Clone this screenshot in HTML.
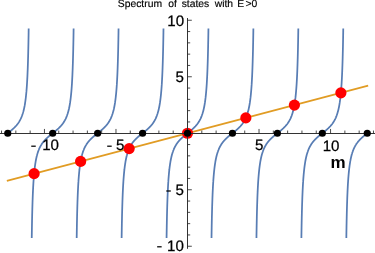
<!DOCTYPE html>
<html><head><meta charset="utf-8"><title>Spectrum</title>
<style>html,body{margin:0;padding:0;background:#fff;width:375px;height:253px;overflow:hidden}</style>
</head><body>
<svg width="375" height="253" viewBox="0 0 375 253" style="position:absolute;left:0;top:0;will-change:transform;transform:translateZ(0)">
<rect width="375" height="253" fill="#fff"/>
<g stroke="#587DB4" stroke-width="1.75" fill="none" stroke-linejoin="round">
<path d="M7.74,133.25L7.91,133.11L8.09,132.97L8.27,132.83L8.44,132.69L8.62,132.55L8.79,132.41L8.85,132.37L8.97,132.27L9.15,132.13L9.32,131.99L9.50,131.85L9.67,131.71L9.85,131.57L10.02,131.43L10.20,131.29L10.38,131.14L10.55,131.00L10.73,130.85L10.90,130.71L11.02,130.61L11.08,130.56L11.26,130.41L11.43,130.27L11.61,130.12L11.78,129.97L11.96,129.82L12.14,129.66L12.31,129.51L12.49,129.35L12.66,129.20L12.84,129.04L13.01,128.88L13.05,128.85L13.19,128.72L13.37,128.56L13.54,128.40L13.72,128.23L13.89,128.06L14.07,127.89L14.25,127.72L14.42,127.55L14.60,127.37L14.77,127.20L14.87,127.09L14.95,127.02L15.13,126.83L15.30,126.65L15.48,126.46L15.65,126.27L15.83,126.08L16.01,125.88L16.18,125.68L16.36,125.48L16.48,125.34L16.53,125.27L16.71,125.06L16.88,124.85L17.06,124.63L17.24,124.41L17.41,124.18L17.59,123.95L17.76,123.72L17.87,123.58L17.94,123.47L18.12,123.23L18.29,122.98L18.47,122.72L18.64,122.46L18.82,122.19L19.00,121.92L19.06,121.82L19.17,121.63L19.35,121.34L19.52,121.05L19.70,120.74L19.87,120.43L20.05,120.11L20.07,120.06L20.23,119.77L20.40,119.43L20.58,119.08L20.75,118.72L20.93,118.34L20.95,118.30L21.11,117.96L21.28,117.55L21.46,117.14L21.63,116.71L21.70,116.54L21.81,116.27L21.99,115.81L22.16,115.33L22.34,114.83L22.35,114.78L22.51,114.31L22.69,113.77L22.86,113.21L22.92,113.03L23.04,112.62L23.22,112.00L23.39,111.36L23.42,111.27L23.57,110.68L23.74,109.97L23.85,109.51L23.92,109.22L24.10,108.43L24.24,107.75L24.27,107.60L24.45,106.72L24.59,105.99L24.62,105.79L24.80,104.80L24.90,104.23L24.98,103.75L25.15,102.63L25.17,102.47L25.33,101.43L25.43,100.72L25.50,100.14L25.65,98.96L25.68,98.76L25.86,97.27L25.86,97.20L26.03,95.66L26.05,95.44L26.21,93.91L26.23,93.68L26.38,92.01L26.39,91.92L26.54,90.16L26.56,89.92L26.68,88.41L26.73,87.63L26.81,86.65L26.91,85.10L26.92,84.89L27.04,83.13L27.09,82.30L27.14,81.37L27.24,79.61L27.26,79.16L27.33,77.85L27.42,76.09L27.44,75.63L27.50,74.34L27.57,72.58L27.61,71.62L27.65,70.82L27.72,69.06L27.78,67.30L27.79,67.05L27.84,65.54L27.90,63.78L27.96,62.03L27.97,61.76L28.01,60.27L28.06,58.51L28.11,56.75L28.14,55.57L28.16,54.99L28.20,53.23L28.24,51.47L28.28,49.72L28.32,48.25L28.32,47.96L28.36,46.20L28.40,44.44L28.43,42.68L28.47,40.92L28.49,39.43L28.50,39.16L28.53,37.41L28.56,35.65L28.59,33.89L28.62,32.13L28.64,30.37L28.67,28.61"/>
<path d="M31.75,237.89L31.77,236.13L31.80,234.37L31.83,232.61L31.86,230.85L31.89,229.09L31.92,227.34L31.95,225.58L31.98,223.82L32.02,222.06L32.05,220.30L32.09,218.54L32.10,218.25L32.13,216.78L32.17,215.03L32.22,213.27L32.26,211.51L32.31,209.75L32.35,207.99L32.41,206.23L32.45,204.74L32.46,204.47L32.52,202.72L32.57,200.96L32.64,199.20L32.70,197.44L32.77,195.68L32.80,194.88L32.84,193.92L32.92,192.16L33.00,190.41L33.09,188.65L33.15,187.34L33.18,186.89L33.28,185.13L33.38,183.37L33.49,181.61L33.51,181.40L33.61,179.85L33.74,178.09L33.86,176.58L33.88,176.34L34.03,174.58L34.19,172.82L34.21,172.59L34.36,171.06L34.55,169.30L34.56,169.23L34.76,167.54L34.91,166.36L34.99,165.78L35.24,164.03L35.27,163.87L35.52,162.27L35.62,161.70L35.83,160.51L35.97,159.78L36.18,158.75L36.32,158.07L36.56,156.99L36.67,156.53L37.00,155.23L37.02,155.14L37.38,153.88L37.50,153.47L37.73,152.73L38.06,151.72L38.08,151.67L38.43,150.69L38.72,149.96L38.78,149.79L39.13,148.95L39.47,148.20L39.49,148.16L39.84,147.42L40.19,146.73L40.34,146.44L40.54,146.07L40.89,145.45L41.25,144.87L41.36,144.68L41.60,144.31L41.95,143.78L42.30,143.27L42.55,142.92L42.65,142.78L43.00,142.32L43.36,141.87L43.71,141.44L43.94,141.16L44.06,141.02L44.41,140.62L44.76,140.23L45.12,139.85L45.47,139.48L45.54,139.41L45.82,139.13L46.17,138.78L46.52,138.44L46.87,138.10L47.23,137.78L47.37,137.65L47.58,137.46L47.93,137.15L48.28,136.84L48.63,136.53L48.98,136.23L49.34,135.94L49.40,135.89L49.69,135.65L50.04,135.36L50.39,135.07L50.74,134.79L51.10,134.51L51.45,134.23L51.57,134.13L51.80,133.95L52.15,133.67L52.50,133.39L52.85,133.11L53.21,132.83L53.56,132.55L53.79,132.37L53.91,132.27L54.26,131.99L54.61,131.71L54.97,131.43L55.32,131.14L55.67,130.85L55.96,130.61L56.02,130.56L56.37,130.27L56.72,129.97L57.08,129.66L57.43,129.35L57.78,129.04L57.99,128.85L58.13,128.72L58.48,128.40L58.83,128.06L59.19,127.72L59.54,127.37L59.81,127.09L59.89,127.02L60.24,126.65L60.59,126.27L60.95,125.88L61.30,125.48L61.42,125.34L61.65,125.06L62.00,124.63L62.35,124.18L62.70,123.72L62.81,123.58L63.06,123.23L63.41,122.72L63.76,122.19L64.00,121.82L64.11,121.63L64.46,121.05L64.82,120.43L65.02,120.06L65.17,119.77L65.52,119.08L65.87,118.34L65.89,118.30L66.22,117.55L66.57,116.71L66.64,116.54L66.93,115.81L67.28,114.83L67.29,114.78L67.63,113.77L67.86,113.03L67.98,112.62L68.33,111.36L68.36,111.27L68.68,109.97L68.79,109.51L69.04,108.43L69.18,107.75L69.39,106.72L69.53,105.99L69.74,104.80L69.84,104.23L70.09,102.63L70.12,102.47L70.37,100.72L70.44,100.14L70.60,98.96L70.80,97.27L70.80,97.20L70.99,95.44L71.15,93.91L71.17,93.68L71.33,91.92L71.48,90.16L71.50,89.92L71.62,88.41L71.75,86.65L71.85,85.10L71.87,84.89L71.98,83.13L72.08,81.37L72.18,79.61L72.20,79.16L72.27,77.85L72.36,76.09L72.44,74.34L72.51,72.58L72.55,71.62L72.59,70.82L72.66,69.06L72.72,67.30L72.78,65.54L72.84,63.78L72.90,62.03L72.91,61.76L72.95,60.27L73.00,58.51L73.05,56.75L73.10,54.99L73.14,53.23L73.18,51.47L73.23,49.72L73.26,48.25L73.26,47.96L73.30,46.20L73.34,44.44L73.37,42.68L73.41,40.92L73.44,39.16L73.47,37.41L73.50,35.65L73.53,33.89L73.56,32.13L73.58,30.37L73.61,28.61"/>
<path d="M76.69,237.89L76.71,236.13L76.74,234.37L76.77,232.61L76.80,230.85L76.83,229.09L76.86,227.34L76.89,225.58L76.92,223.82L76.96,222.06L77.00,220.30L77.03,218.54L77.04,218.25L77.07,216.78L77.11,215.03L77.16,213.27L77.20,211.51L77.25,209.75L77.30,207.99L77.35,206.23L77.39,204.74L77.40,204.47L77.46,202.72L77.51,200.96L77.58,199.20L77.64,197.44L77.71,195.68L77.74,194.88L77.78,193.92L77.86,192.16L77.94,190.41L78.03,188.65L78.09,187.34L78.12,186.89L78.22,185.13L78.32,183.37L78.43,181.61L78.45,181.40L78.55,179.85L78.68,178.09L78.80,176.58L78.82,176.34L78.97,174.58L79.13,172.82L79.15,172.59L79.30,171.06L79.49,169.30L79.50,169.23L79.70,167.54L79.85,166.36L79.93,165.78L80.18,164.03L80.21,163.87L80.46,162.27L80.56,161.70L80.77,160.51L80.91,159.78L81.12,158.75L81.26,158.07L81.50,156.99L81.61,156.53L81.94,155.23L81.96,155.14L82.32,153.88L82.44,153.47L82.67,152.73L83.00,151.72L83.02,151.67L83.37,150.69L83.66,149.96L83.72,149.79L84.08,148.95L84.41,148.20L84.43,148.16L84.78,147.42L85.13,146.73L85.28,146.44L85.48,146.07L85.83,145.45L86.19,144.87L86.30,144.68L86.54,144.31L86.89,143.78L87.24,143.27L87.49,142.92L87.59,142.78L87.94,142.32L88.30,141.87L88.65,141.44L88.88,141.16L89.00,141.02L89.35,140.62L89.70,140.23L90.06,139.85L90.41,139.48L90.48,139.41L90.76,139.13L91.11,138.78L91.46,138.44L91.81,138.10L92.17,137.78L92.31,137.65L92.52,137.46L92.87,137.15L93.22,136.84L93.57,136.53L93.93,136.23L94.28,135.94L94.34,135.89L94.63,135.65L94.98,135.36L95.33,135.07L95.68,134.79L96.04,134.51L96.39,134.23L96.51,134.13L96.74,133.95L97.09,133.67L97.44,133.39L97.79,133.11L98.15,132.83L98.50,132.55L98.73,132.37L98.85,132.27L99.20,131.99L99.55,131.71L99.91,131.43L100.26,131.14L100.61,130.85L100.90,130.61L100.96,130.56L101.31,130.27L101.66,129.97L102.02,129.66L102.37,129.35L102.72,129.04L102.93,128.85L103.07,128.72L103.42,128.40L103.78,128.06L104.13,127.72L104.48,127.37L104.75,127.09L104.83,127.02L105.18,126.65L105.53,126.27L105.89,125.88L106.24,125.48L106.36,125.34L106.59,125.06L106.94,124.63L107.29,124.18L107.64,123.72L107.75,123.58L108.00,123.23L108.35,122.72L108.70,122.19L108.94,121.82L109.05,121.63L109.40,121.05L109.76,120.43L109.96,120.06L110.11,119.77L110.46,119.08L110.81,118.34L110.83,118.30L111.16,117.55L111.51,116.71L111.58,116.54L111.87,115.81L112.22,114.83L112.23,114.78L112.57,113.77L112.80,113.03L112.92,112.62L113.27,111.36L113.30,111.27L113.63,109.97L113.73,109.51L113.98,108.43L114.12,107.75L114.33,106.72L114.47,105.99L114.68,104.80L114.78,104.23L115.03,102.63L115.06,102.47L115.31,100.72L115.38,100.14L115.54,98.96L115.74,97.27L115.74,97.20L115.93,95.44L116.09,93.91L116.11,93.68L116.27,91.92L116.42,90.16L116.44,89.92L116.56,88.41L116.69,86.65L116.79,85.10L116.81,84.89L116.92,83.13L117.02,81.37L117.12,79.61L117.14,79.16L117.21,77.85L117.30,76.09L117.38,74.34L117.46,72.58L117.50,71.62L117.53,70.82L117.60,69.06L117.66,67.30L117.72,65.54L117.78,63.78L117.84,62.03L117.85,61.76L117.89,60.27L117.94,58.51L117.99,56.75L118.04,54.99L118.08,53.23L118.13,51.47L118.17,49.72L118.20,48.25L118.21,47.96L118.24,46.20L118.28,44.44L118.31,42.68L118.35,40.92L118.38,39.16L118.41,37.41L118.44,35.65L118.47,33.89L118.50,32.13L118.52,30.37L118.55,28.61"/>
<path d="M121.63,237.89L121.65,236.13L121.68,234.37L121.71,232.61L121.74,230.85L121.77,229.09L121.80,227.34L121.83,225.58L121.86,223.82L121.90,222.06L121.94,220.30L121.97,218.54L121.98,218.25L122.01,216.78L122.05,215.03L122.10,213.27L122.14,211.51L122.19,209.75L122.24,207.99L122.29,206.23L122.33,204.74L122.34,204.47L122.40,202.72L122.45,200.96L122.52,199.20L122.58,197.44L122.65,195.68L122.68,194.88L122.72,193.92L122.80,192.16L122.88,190.41L122.97,188.65L123.04,187.34L123.06,186.89L123.16,185.13L123.26,183.37L123.37,181.61L123.39,181.40L123.49,179.85L123.62,178.09L123.74,176.58L123.76,176.34L123.91,174.58L124.07,172.82L124.09,172.59L124.24,171.06L124.43,169.30L124.44,169.23L124.64,167.54L124.79,166.36L124.87,165.78L125.12,164.03L125.15,163.87L125.40,162.27L125.50,161.70L125.71,160.51L125.85,159.78L126.06,158.75L126.20,158.07L126.44,156.99L126.55,156.53L126.88,155.23L126.90,155.14L127.26,153.88L127.38,153.47L127.61,152.73L127.95,151.72L127.96,151.67L128.31,150.69L128.60,149.96L128.66,149.79L129.02,148.95L129.35,148.20L129.37,148.16L129.72,147.42L130.07,146.73L130.22,146.44L130.42,146.07L130.77,145.45L131.13,144.87L131.24,144.68L131.48,144.31L131.83,143.78L132.18,143.27L132.43,142.92L132.53,142.78L132.89,142.32L133.24,141.87L133.59,141.44L133.82,141.16L133.94,141.02L134.29,140.62L134.64,140.23L135.00,139.85L135.35,139.48L135.42,139.41L135.70,139.13L136.05,138.78L136.40,138.44L136.76,138.10L137.11,137.78L137.25,137.65L137.46,137.46L137.81,137.15L138.16,136.84L138.51,136.53L138.87,136.23L139.22,135.94L139.28,135.89L139.57,135.65L139.92,135.36L140.27,135.07L140.62,134.79L140.98,134.51L141.33,134.23L141.45,134.13L141.68,133.95L142.03,133.67L142.38,133.39L142.74,133.11L143.09,132.83L143.44,132.55L143.67,132.37L143.79,132.27L144.14,131.99L144.49,131.71L144.85,131.43L145.20,131.14L145.55,130.85L145.84,130.61L145.90,130.56L146.25,130.27L146.61,129.97L146.96,129.66L147.31,129.35L147.66,129.04L147.87,128.85L148.01,128.72L148.36,128.40L148.72,128.06L149.07,127.72L149.42,127.37L149.69,127.09L149.77,127.02L150.12,126.65L150.47,126.27L150.83,125.88L151.18,125.48L151.30,125.34L151.53,125.06L151.88,124.63L152.23,124.18L152.59,123.72L152.69,123.58L152.94,123.23L153.29,122.72L153.64,122.19L153.88,121.82L153.99,121.63L154.34,121.05L154.70,120.43L154.90,120.06L155.05,119.77L155.40,119.08L155.75,118.34L155.77,118.30L156.10,117.55L156.46,116.71L156.52,116.54L156.81,115.81L157.16,114.83L157.17,114.78L157.51,113.77L157.74,113.03L157.86,112.62L158.21,111.36L158.24,111.27L158.57,109.97L158.68,109.51L158.92,108.43L159.06,107.75L159.27,106.72L159.41,105.99L159.62,104.80L159.72,104.23L159.97,102.63L160.00,102.47L160.25,100.72L160.32,100.14L160.48,98.96L160.68,97.27L160.68,97.20L160.88,95.44L161.03,93.91L161.05,93.68L161.21,91.92L161.36,90.16L161.38,89.92L161.50,88.41L161.63,86.65L161.73,85.10L161.75,84.89L161.86,83.13L161.96,81.37L162.06,79.61L162.08,79.16L162.15,77.85L162.24,76.09L162.32,74.34L162.40,72.58L162.44,71.62L162.47,70.82L162.54,69.06L162.60,67.30L162.66,65.54L162.72,63.78L162.78,62.03L162.79,61.76L162.83,60.27L162.88,58.51L162.93,56.75L162.98,54.99L163.02,53.23L163.07,51.47L163.11,49.72L163.14,48.25L163.15,47.96L163.18,46.20L163.22,44.44L163.25,42.68L163.29,40.92L163.32,39.16L163.35,37.41L163.38,35.65L163.41,33.89L163.44,32.13L163.46,30.37L163.49,28.61"/>
<path d="M166.57,237.89L166.59,236.13L166.62,234.37L166.65,232.61L166.68,230.85L166.71,229.09L166.74,227.34L166.77,225.58L166.81,223.82L166.84,222.06L166.88,220.30L166.91,218.54L166.92,218.25L166.95,216.78L166.99,215.03L167.04,213.27L167.08,211.51L167.13,209.75L167.18,207.99L167.23,206.23L167.27,204.74L167.28,204.47L167.34,202.72L167.40,200.96L167.46,199.20L167.52,197.44L167.59,195.68L167.62,194.88L167.66,193.92L167.74,192.16L167.82,190.41L167.91,188.65L167.98,187.34L168.00,186.89L168.10,185.13L168.20,183.37L168.31,181.61L168.33,181.40L168.43,179.85L168.56,178.09L168.68,176.58L168.70,176.34L168.85,174.58L169.01,172.82L169.03,172.59L169.18,171.06L169.37,169.30L169.38,169.23L169.58,167.54L169.73,166.36L169.81,165.78L170.06,164.03L170.09,163.87L170.34,162.27L170.44,161.70L170.65,160.51L170.79,159.78L171.00,158.75L171.14,158.07L171.38,156.99L171.49,156.53L171.82,155.23L171.85,155.14L172.20,153.88L172.32,153.47L172.55,152.73L172.89,151.72L172.90,151.67L173.25,150.69L173.54,149.96L173.60,149.79L173.96,148.95L174.29,148.20L174.31,148.16L174.66,147.42L175.01,146.73L175.16,146.44L175.36,146.07L175.72,145.45L176.07,144.87L176.18,144.68L176.42,144.31L176.77,143.78L177.12,143.27L177.37,142.92L177.47,142.78L177.83,142.32L178.18,141.87L178.53,141.44L178.76,141.16L178.88,141.02L179.23,140.62L179.58,140.23L179.94,139.85L180.29,139.48L180.37,139.41L180.64,139.13L180.99,138.78L181.34,138.44L181.70,138.10L182.05,137.78L182.19,137.65L182.40,137.46L182.75,137.15L183.10,136.84L183.45,136.53L183.81,136.23L184.16,135.94L184.22,135.89L184.51,135.65L184.86,135.36L185.21,135.07L185.57,134.79L185.92,134.51L186.27,134.23L186.39,134.13L186.62,133.95L186.97,133.67L187.32,133.39L187.68,133.11L188.03,132.83L188.38,132.55L188.61,132.37L188.73,132.27L189.08,131.99L189.43,131.71L189.79,131.43L190.14,131.14L190.49,130.85L190.78,130.61L190.84,130.56L191.19,130.27L191.55,129.97L191.90,129.66L192.25,129.35L192.60,129.04L192.81,128.85L192.95,128.72L193.30,128.40L193.66,128.06L194.01,127.72L194.36,127.37L194.63,127.09L194.71,127.02L195.06,126.65L195.42,126.27L195.77,125.88L196.12,125.48L196.24,125.34L196.47,125.06L196.82,124.63L197.17,124.18L197.53,123.72L197.63,123.58L197.88,123.23L198.23,122.72L198.58,122.19L198.82,121.82L198.93,121.63L199.28,121.05L199.64,120.43L199.84,120.06L199.99,119.77L200.34,119.08L200.69,118.34L200.71,118.30L201.04,117.55L201.40,116.71L201.46,116.54L201.75,115.81L202.10,114.83L202.11,114.78L202.45,113.77L202.68,113.03L202.80,112.62L203.15,111.36L203.18,111.27L203.51,109.97L203.62,109.51L203.86,108.43L204.00,107.75L204.21,106.72L204.35,105.99L204.56,104.80L204.66,104.23L204.91,102.63L204.94,102.47L205.19,100.72L205.27,100.14L205.42,98.96L205.62,97.27L205.63,97.20L205.82,95.44L205.97,93.91L205.99,93.68L206.15,91.92L206.30,90.16L206.32,89.92L206.44,88.41L206.57,86.65L206.67,85.10L206.69,84.89L206.80,83.13L206.90,81.37L207.00,79.61L207.02,79.16L207.09,77.85L207.18,76.09L207.26,74.34L207.34,72.58L207.38,71.62L207.41,70.82L207.48,69.06L207.54,67.30L207.60,65.54L207.66,63.78L207.72,62.03L207.73,61.76L207.77,60.27L207.82,58.51L207.87,56.75L207.92,54.99L207.96,53.23L208.01,51.47L208.05,49.72L208.08,48.25L208.09,47.96L208.12,46.20L208.16,44.44L208.19,42.68L208.23,40.92L208.26,39.16L208.29,37.41L208.32,35.65L208.35,33.89L208.38,32.13L208.41,30.37L208.43,28.61"/>
<path d="M211.51,237.89L211.54,236.13L211.56,234.37L211.59,232.61L211.62,230.85L211.65,229.09L211.68,227.34L211.71,225.58L211.75,223.82L211.78,222.06L211.82,220.30L211.85,218.54L211.86,218.25L211.89,216.78L211.93,215.03L211.98,213.27L212.02,211.51L212.07,209.75L212.12,207.99L212.17,206.23L212.21,204.74L212.22,204.47L212.28,202.72L212.34,200.96L212.40,199.20L212.46,197.44L212.53,195.68L212.56,194.88L212.60,193.92L212.68,192.16L212.76,190.41L212.85,188.65L212.92,187.34L212.94,186.89L213.04,185.13L213.14,183.37L213.25,181.61L213.27,181.40L213.37,179.85L213.50,178.09L213.62,176.58L213.64,176.34L213.79,174.58L213.95,172.82L213.97,172.59L214.12,171.06L214.32,169.30L214.32,169.23L214.52,167.54L214.68,166.36L214.75,165.78L215.00,164.03L215.03,163.87L215.28,162.27L215.38,161.70L215.59,160.51L215.73,159.78L215.94,158.75L216.08,158.07L216.32,156.99L216.43,156.53L216.76,155.23L216.79,155.14L217.14,153.88L217.26,153.47L217.49,152.73L217.83,151.72L217.84,151.67L218.19,150.69L218.48,149.96L218.54,149.79L218.90,148.95L219.23,148.20L219.25,148.16L219.60,147.42L219.95,146.73L220.10,146.44L220.30,146.07L220.66,145.45L221.01,144.87L221.12,144.68L221.36,144.31L221.71,143.78L222.06,143.27L222.31,142.92L222.41,142.78L222.77,142.32L223.12,141.87L223.47,141.44L223.70,141.16L223.82,141.02L224.17,140.62L224.53,140.23L224.88,139.85L225.23,139.48L225.31,139.41L225.58,139.13L225.93,138.78L226.28,138.44L226.64,138.10L226.99,137.78L227.13,137.65L227.34,137.46L227.69,137.15L228.04,136.84L228.39,136.53L228.75,136.23L229.10,135.94L229.16,135.89L229.45,135.65L229.80,135.36L230.15,135.07L230.51,134.79L230.86,134.51L231.21,134.23L231.33,134.13L231.56,133.95L231.91,133.67L232.26,133.39L232.62,133.11L232.97,132.83L233.32,132.55L233.55,132.37L233.67,132.27L234.02,131.99L234.38,131.71L234.73,131.43L235.08,131.14L235.43,130.85L235.72,130.61L235.78,130.56L236.13,130.27L236.49,129.97L236.84,129.66L237.19,129.35L237.54,129.04L237.75,128.85L237.89,128.72L238.24,128.40L238.60,128.06L238.95,127.72L239.30,127.37L239.58,127.09L239.65,127.02L240.00,126.65L240.36,126.27L240.71,125.88L241.06,125.48L241.18,125.34L241.41,125.06L241.76,124.63L242.11,124.18L242.47,123.72L242.57,123.58L242.82,123.23L243.17,122.72L243.52,122.19L243.76,121.82L243.87,121.63L244.23,121.05L244.58,120.43L244.78,120.06L244.93,119.77L245.28,119.08L245.63,118.34L245.65,118.30L245.98,117.55L246.34,116.71L246.40,116.54L246.69,115.81L247.04,114.83L247.05,114.78L247.39,113.77L247.62,113.03L247.74,112.62L248.10,111.36L248.12,111.27L248.45,109.97L248.56,109.51L248.80,108.43L248.94,107.75L249.15,106.72L249.29,105.99L249.50,104.80L249.60,104.23L249.85,102.63L249.88,102.47L250.13,100.72L250.21,100.14L250.36,98.96L250.56,97.27L250.57,97.20L250.76,95.44L250.91,93.91L250.93,93.68L251.09,91.92L251.24,90.16L251.26,89.92L251.38,88.41L251.51,86.65L251.61,85.10L251.63,84.89L251.74,83.13L251.84,81.37L251.94,79.61L251.96,79.16L252.03,77.85L252.12,76.09L252.20,74.34L252.28,72.58L252.32,71.62L252.35,70.82L252.42,69.06L252.48,67.30L252.55,65.54L252.60,63.78L252.66,62.03L252.67,61.76L252.71,60.27L252.76,58.51L252.81,56.75L252.86,54.99L252.90,53.23L252.95,51.47L252.99,49.72L253.02,48.25L253.03,47.96L253.06,46.20L253.10,44.44L253.14,42.68L253.17,40.92L253.20,39.16L253.23,37.41L253.26,35.65L253.29,33.89L253.32,32.13L253.35,30.37L253.37,28.61"/>
<path d="M256.45,237.89L256.48,236.13L256.50,234.37L256.53,232.61L256.56,230.85L256.59,229.09L256.62,227.34L256.65,225.58L256.69,223.82L256.72,222.06L256.76,220.30L256.79,218.54L256.80,218.25L256.83,216.78L256.87,215.03L256.92,213.27L256.96,211.51L257.01,209.75L257.06,207.99L257.11,206.23L257.15,204.74L257.16,204.47L257.22,202.72L257.28,200.96L257.34,199.20L257.40,197.44L257.47,195.68L257.50,194.88L257.54,193.92L257.62,192.16L257.70,190.41L257.79,188.65L257.86,187.34L257.88,186.89L257.98,185.13L258.08,183.37L258.19,181.61L258.21,181.40L258.31,179.85L258.44,178.09L258.56,176.58L258.58,176.34L258.73,174.58L258.89,172.82L258.91,172.59L259.07,171.06L259.26,169.30L259.26,169.23L259.46,167.54L259.62,166.36L259.69,165.78L259.94,164.03L259.97,163.87L260.22,162.27L260.32,161.70L260.53,160.51L260.67,159.78L260.88,158.75L261.02,158.07L261.27,156.99L261.37,156.53L261.70,155.23L261.73,155.14L262.08,153.88L262.20,153.47L262.43,152.73L262.77,151.72L262.78,151.67L263.13,150.69L263.42,149.96L263.49,149.79L263.84,148.95L264.17,148.20L264.19,148.16L264.54,147.42L264.89,146.73L265.04,146.44L265.24,146.07L265.60,145.45L265.95,144.87L266.06,144.68L266.30,144.31L266.65,143.78L267.00,143.27L267.25,142.92L267.36,142.78L267.71,142.32L268.06,141.87L268.41,141.44L268.64,141.16L268.76,141.02L269.11,140.62L269.47,140.23L269.82,139.85L270.17,139.48L270.25,139.41L270.52,139.13L270.87,138.78L271.22,138.44L271.58,138.10L271.93,137.78L272.07,137.65L272.28,137.46L272.63,137.15L272.98,136.84L273.34,136.53L273.69,136.23L274.04,135.94L274.10,135.89L274.39,135.65L274.74,135.36L275.09,135.07L275.45,134.79L275.80,134.51L276.15,134.23L276.27,134.13L276.50,133.95L276.85,133.67L277.21,133.39L277.56,133.11L277.91,132.83L278.26,132.55L278.49,132.37L278.61,132.27L278.96,131.99L279.32,131.71L279.67,131.43L280.02,131.14L280.37,130.85L280.66,130.61L280.72,130.56L281.07,130.27L281.43,129.97L281.78,129.66L282.13,129.35L282.48,129.04L282.69,128.85L282.83,128.72L283.19,128.40L283.54,128.06L283.89,127.72L284.24,127.37L284.52,127.09L284.59,127.02L284.94,126.65L285.30,126.27L285.65,125.88L286.00,125.48L286.12,125.34L286.35,125.06L286.70,124.63L287.06,124.18L287.41,123.72L287.51,123.58L287.76,123.23L288.11,122.72L288.46,122.19L288.70,121.82L288.81,121.63L289.17,121.05L289.52,120.43L289.72,120.06L289.87,119.77L290.22,119.08L290.57,118.34L290.59,118.30L290.92,117.55L291.28,116.71L291.34,116.54L291.63,115.81L291.98,114.83L292.00,114.78L292.33,113.77L292.56,113.03L292.68,112.62L293.04,111.36L293.06,111.27L293.39,109.97L293.50,109.51L293.74,108.43L293.88,107.75L294.09,106.72L294.23,105.99L294.44,104.80L294.54,104.23L294.79,102.63L294.82,102.47L295.07,100.72L295.15,100.14L295.30,98.96L295.50,97.27L295.51,97.20L295.70,95.44L295.85,93.91L295.87,93.68L296.03,91.92L296.18,90.16L296.20,89.92L296.32,88.41L296.45,86.65L296.55,85.10L296.57,84.89L296.68,83.13L296.78,81.37L296.88,79.61L296.91,79.16L296.97,77.85L297.06,76.09L297.14,74.34L297.22,72.58L297.26,71.62L297.29,70.82L297.36,69.06L297.42,67.30L297.49,65.54L297.54,63.78L297.60,62.03L297.61,61.76L297.65,60.27L297.70,58.51L297.75,56.75L297.80,54.99L297.84,53.23L297.89,51.47L297.93,49.72L297.96,48.25L297.97,47.96L298.00,46.20L298.04,44.44L298.08,42.68L298.11,40.92L298.14,39.16L298.17,37.41L298.20,35.65L298.23,33.89L298.26,32.13L298.29,30.37L298.31,28.61"/>
<path d="M301.39,237.89L301.42,236.13L301.44,234.37L301.47,232.61L301.50,230.85L301.53,229.09L301.56,227.34L301.59,225.58L301.63,223.82L301.66,222.06L301.70,220.30L301.74,218.54L301.74,218.25L301.77,216.78L301.82,215.03L301.86,213.27L301.90,211.51L301.95,209.75L302.00,207.99L302.05,206.23L302.09,204.74L302.10,204.47L302.16,202.72L302.22,200.96L302.28,199.20L302.34,197.44L302.41,195.68L302.45,194.88L302.49,193.92L302.56,192.16L302.64,190.41L302.73,188.65L302.80,187.34L302.82,186.89L302.92,185.13L303.02,183.37L303.13,181.61L303.15,181.40L303.25,179.85L303.38,178.09L303.50,176.58L303.52,176.34L303.67,174.58L303.83,172.82L303.85,172.59L304.01,171.06L304.20,169.30L304.20,169.23L304.40,167.54L304.56,166.36L304.63,165.78L304.88,164.03L304.91,163.87L305.16,162.27L305.26,161.70L305.47,160.51L305.61,159.78L305.82,158.75L305.96,158.07L306.21,156.99L306.32,156.53L306.64,155.23L306.67,155.14L307.02,153.88L307.14,153.47L307.37,152.73L307.71,151.72L307.72,151.67L308.07,150.69L308.36,149.96L308.43,149.79L308.78,148.95L309.11,148.20L309.13,148.16L309.48,147.42L309.83,146.73L309.98,146.44L310.18,146.07L310.54,145.45L310.89,144.87L311.00,144.68L311.24,144.31L311.59,143.78L311.94,143.27L312.19,142.92L312.30,142.78L312.65,142.32L313.00,141.87L313.35,141.44L313.58,141.16L313.70,141.02L314.05,140.62L314.41,140.23L314.76,139.85L315.11,139.48L315.19,139.41L315.46,139.13L315.81,138.78L316.17,138.44L316.52,138.10L316.87,137.78L317.01,137.65L317.22,137.46L317.57,137.15L317.92,136.84L318.28,136.53L318.63,136.23L318.98,135.94L319.04,135.89L319.33,135.65L319.68,135.36L320.03,135.07L320.39,134.79L320.74,134.51L321.09,134.23L321.21,134.13L321.44,133.95L321.79,133.67L322.15,133.39L322.50,133.11L322.85,132.83L323.20,132.55L323.43,132.37L323.55,132.27L323.90,131.99L324.26,131.71L324.61,131.43L324.96,131.14L325.31,130.85L325.60,130.61L325.66,130.56L326.02,130.27L326.37,129.97L326.72,129.66L327.07,129.35L327.42,129.04L327.63,128.85L327.77,128.72L328.13,128.40L328.48,128.06L328.83,127.72L329.18,127.37L329.46,127.09L329.53,127.02L329.88,126.65L330.24,126.27L330.59,125.88L330.94,125.48L331.06,125.34L331.29,125.06L331.64,124.63L332.00,124.18L332.35,123.72L332.45,123.58L332.70,123.23L333.05,122.72L333.40,122.19L333.64,121.82L333.75,121.63L334.11,121.05L334.46,120.43L334.66,120.06L334.81,119.77L335.16,119.08L335.51,118.34L335.53,118.30L335.87,117.55L336.22,116.71L336.28,116.54L336.57,115.81L336.92,114.83L336.94,114.78L337.27,113.77L337.50,113.03L337.62,112.62L337.98,111.36L338.00,111.27L338.33,109.97L338.44,109.51L338.68,108.43L338.82,107.75L339.03,106.72L339.17,105.99L339.38,104.80L339.48,104.23L339.73,102.63L339.76,102.47L340.01,100.72L340.09,100.14L340.24,98.96L340.44,97.27L340.45,97.20L340.64,95.44L340.79,93.91L340.81,93.68L340.97,91.92L341.12,90.16L341.14,89.92L341.26,88.41L341.39,86.65L341.49,85.10L341.51,84.89L341.62,83.13L341.72,81.37L341.82,79.61L341.85,79.16L341.91,77.85L342.00,76.09L342.08,74.34L342.16,72.58L342.20,71.62L342.23,70.82L342.30,69.06L342.36,67.30L342.43,65.54L342.48,63.78L342.54,62.03L342.55,61.76L342.59,60.27L342.65,58.51L342.69,56.75L342.74,54.99L342.78,53.23L342.83,51.47L342.87,49.72L342.90,48.25L342.91,47.96L342.95,46.20L342.98,44.44L343.02,42.68L343.05,40.92L343.08,39.16L343.11,37.41L343.14,35.65L343.17,33.89L343.20,32.13L343.23,30.37L343.25,28.61"/>
<path d="M346.33,237.89L346.36,236.13L346.38,234.37L346.41,232.61L346.44,230.85L346.47,229.09L346.50,227.34L346.51,227.07L346.53,225.58L346.57,223.82L346.60,222.06L346.64,220.30L346.68,218.54L346.68,218.25L346.72,216.78L346.76,215.03L346.80,213.27L346.84,211.51L346.86,210.93L346.89,209.75L346.94,207.99L346.99,206.23L347.03,204.74L347.04,204.47L347.10,202.72L347.16,200.96L347.21,199.45L347.22,199.20L347.28,197.44L347.35,195.68L347.39,194.88L347.43,193.92L347.50,192.16L347.56,190.87L347.58,190.41L347.67,188.65L347.74,187.34L347.76,186.89L347.86,185.13L347.91,184.20L347.96,183.37L348.08,181.61L348.09,181.40L348.19,179.85L348.27,178.87L348.32,178.09L348.44,176.58L348.46,176.34L348.61,174.58L348.62,174.49L348.77,172.82L348.79,172.59L348.95,171.06L348.97,170.84L349.14,169.30L349.14,169.23L349.32,167.74L349.35,167.54L349.50,166.36L349.57,165.78L349.67,165.07L349.83,164.03L349.85,163.87L350.02,162.75L350.10,162.27L350.20,161.70L350.38,160.71L350.41,160.51L350.55,159.78L350.73,158.90L350.76,158.75L350.90,158.07L351.08,157.28L351.15,156.99L351.26,156.53L351.43,155.82L351.58,155.23L351.61,155.14L351.78,154.50L351.96,153.88L352.08,153.47L352.14,153.29L352.31,152.73L352.49,152.19L352.65,151.72L352.66,151.67L352.84,151.17L353.01,150.69L353.19,150.23L353.30,149.96L353.37,149.79L353.54,149.36L353.72,148.95L353.89,148.54L354.05,148.20L354.07,148.16L354.25,147.78L354.42,147.42L354.60,147.07L354.77,146.73L354.93,146.44L354.95,146.39L355.13,146.07L355.30,145.76L355.48,145.45L355.65,145.16L355.83,144.87L355.94,144.68L356.00,144.58L356.18,144.31L356.36,144.04L356.53,143.78L356.71,143.52L356.88,143.27L357.06,143.03L357.13,142.92L357.24,142.78L357.41,142.55L357.59,142.32L357.76,142.09L357.94,141.87L358.12,141.65L358.29,141.44L358.47,141.23L358.52,141.16L358.64,141.02L358.82,140.82L358.99,140.62L359.17,140.42L359.35,140.23L359.52,140.04L359.70,139.85L359.87,139.67L360.05,139.48L360.13,139.41L360.23,139.30L360.40,139.13L360.58,138.95L360.75,138.78L360.93,138.61L361.11,138.44L361.28,138.27L361.46,138.10L361.63,137.94L361.81,137.78L361.95,137.65L361.99,137.62L362.16,137.46L362.34,137.30L362.51,137.15L362.69,136.99L362.86,136.84L363.04,136.68L363.22,136.53L363.39,136.38L363.57,136.23L363.74,136.09L363.92,135.94L363.98,135.89L364.10,135.79L364.27,135.65L364.45,135.50L364.62,135.36L364.80,135.21L364.98,135.07L365.15,134.93L365.33,134.79L365.50,134.65L365.68,134.51L365.85,134.37L366.03,134.23L366.15,134.13L366.21,134.09L366.38,133.95L366.56,133.81L366.73,133.67L366.91,133.53L367.09,133.39L367.26,133.25"/>
</g>
<line x1="6.83" y1="180.82" x2="368.17" y2="85.68" stroke="#E19C24" stroke-width="1.7"/>
<circle cx="34.11" cy="173.64" r="5.6" fill="#f00"/>
<circle cx="80.61" cy="161.40" r="5.6" fill="#f00"/>
<circle cx="129.16" cy="148.61" r="5.6" fill="#f00"/>
<circle cx="187.50" cy="133.25" r="5.6" fill="#f00"/>
<circle cx="245.84" cy="117.89" r="5.6" fill="#f00"/>
<circle cx="294.39" cy="105.10" r="5.6" fill="#f00"/>
<circle cx="340.89" cy="92.86" r="5.6" fill="#f00"/>
<g stroke="#333" stroke-width="1" fill="none">
<line x1="0" y1="133.5" x2="375" y2="133.5"/>
<line x1="187.5" y1="18" x2="187.5" y2="248.8"/>
</g>
<g stroke="#2a2a2a" stroke-width="0.85" fill="none">
<line x1="1.53" y1="133.25" x2="1.53" y2="130.55"/>
<line x1="15.84" y1="133.25" x2="15.84" y2="130.55"/>
<line x1="30.15" y1="133.25" x2="30.15" y2="130.55"/>
<line x1="44.45" y1="133.25" x2="44.45" y2="128.95"/>
<line x1="58.75" y1="133.25" x2="58.75" y2="130.55"/>
<line x1="73.06" y1="133.25" x2="73.06" y2="130.55"/>
<line x1="87.37" y1="133.25" x2="87.37" y2="130.55"/>
<line x1="101.67" y1="133.25" x2="101.67" y2="130.55"/>
<line x1="115.97" y1="133.25" x2="115.97" y2="128.95"/>
<line x1="130.28" y1="133.25" x2="130.28" y2="130.55"/>
<line x1="144.59" y1="133.25" x2="144.59" y2="130.55"/>
<line x1="158.89" y1="133.25" x2="158.89" y2="130.55"/>
<line x1="173.19" y1="133.25" x2="173.19" y2="130.55"/>
<line x1="201.81" y1="133.25" x2="201.81" y2="130.55"/>
<line x1="216.11" y1="133.25" x2="216.11" y2="130.55"/>
<line x1="230.41" y1="133.25" x2="230.41" y2="130.55"/>
<line x1="244.72" y1="133.25" x2="244.72" y2="130.55"/>
<line x1="259.02" y1="133.25" x2="259.02" y2="128.95"/>
<line x1="273.33" y1="133.25" x2="273.33" y2="130.55"/>
<line x1="287.63" y1="133.25" x2="287.63" y2="130.55"/>
<line x1="301.94" y1="133.25" x2="301.94" y2="130.55"/>
<line x1="316.25" y1="133.25" x2="316.25" y2="130.55"/>
<line x1="330.55" y1="133.25" x2="330.55" y2="128.95"/>
<line x1="344.86" y1="133.25" x2="344.86" y2="130.55"/>
<line x1="359.16" y1="133.25" x2="359.16" y2="130.55"/>
<line x1="373.47" y1="133.25" x2="373.47" y2="130.55"/>
<line x1="187.5" y1="246.25" x2="191.80" y2="246.25"/>
<line x1="187.5" y1="234.95" x2="190.20" y2="234.95"/>
<line x1="187.5" y1="223.65" x2="190.20" y2="223.65"/>
<line x1="187.5" y1="212.35" x2="190.20" y2="212.35"/>
<line x1="187.5" y1="201.05" x2="190.20" y2="201.05"/>
<line x1="187.5" y1="189.75" x2="191.80" y2="189.75"/>
<line x1="187.5" y1="178.45" x2="190.20" y2="178.45"/>
<line x1="187.5" y1="167.15" x2="190.20" y2="167.15"/>
<line x1="187.5" y1="155.85" x2="190.20" y2="155.85"/>
<line x1="187.5" y1="144.55" x2="190.20" y2="144.55"/>
<line x1="187.5" y1="121.95" x2="190.20" y2="121.95"/>
<line x1="187.5" y1="110.65" x2="190.20" y2="110.65"/>
<line x1="187.5" y1="99.35" x2="190.20" y2="99.35"/>
<line x1="187.5" y1="88.05" x2="190.20" y2="88.05"/>
<line x1="187.5" y1="76.75" x2="191.80" y2="76.75"/>
<line x1="187.5" y1="65.45" x2="190.20" y2="65.45"/>
<line x1="187.5" y1="54.15" x2="190.20" y2="54.15"/>
<line x1="187.5" y1="42.85" x2="190.20" y2="42.85"/>
<line x1="187.5" y1="31.55" x2="190.20" y2="31.55"/>
<line x1="187.5" y1="20.25" x2="191.80" y2="20.25"/>
</g>
<g font-family="Liberation Sans, sans-serif" font-size="15.1" fill="#000" stroke="#000" stroke-width="0.25" text-rendering="geometricPrecision">
<text x="184.1" y="25.5" text-anchor="end">10</text>
<text x="183.8" y="82.3" text-anchor="end">5</text>
<text x="183.8" y="195.4" text-anchor="end">5</text>
<text x="183.8" y="251.4" text-anchor="end">10</text>
<text x="59.0" y="150.4" text-anchor="end">10</text>
<text x="124.5" y="150.3" text-anchor="end">5</text>
<text x="263.5" y="150.4" text-anchor="end">5</text>
<text x="339.5" y="150.7" text-anchor="end">10</text>
</g>
<text x="330.5" y="167.5" font-family="Liberation Sans, sans-serif" font-size="17" font-weight="bold" fill="#000">m</text>
<g font-family="Liberation Sans, sans-serif" font-size="10.35" fill="#000" stroke="#000" stroke-width="0.15" text-rendering="geometricPrecision">
<text x="117.8" y="7.4">Spectrum</text>
<text x="168.3" y="7.4">of</text>
<text x="181.7" y="7.4">states</text>
<text x="214.7" y="7.4">with</text>
<text x="237.2" y="7.4">E</text>
<text x="245.5" y="7.4">&gt;</text>
<text x="251.6" y="7.4">0</text>
</g>
<g stroke="#000" stroke-width="1.25" fill="none">
<line x1="166.30" y1="191.0" x2="170.80" y2="191.0"/>
<line x1="157.15" y1="246.8" x2="161.65" y2="246.8"/>
<line x1="31.25" y1="146.2" x2="35.75" y2="146.2"/>
<line x1="107.20" y1="146.2" x2="111.70" y2="146.2"/>
</g>
<circle cx="7.74" cy="133.25" r="3.6" fill="#000"/>
<circle cx="52.68" cy="133.25" r="3.6" fill="#000"/>
<circle cx="97.62" cy="133.25" r="3.6" fill="#000"/>
<circle cx="142.56" cy="133.25" r="3.6" fill="#000"/>
<circle cx="187.50" cy="133.25" r="3.6" fill="#000"/>
<circle cx="232.44" cy="133.25" r="3.6" fill="#000"/>
<circle cx="277.38" cy="133.25" r="3.6" fill="#000"/>
<circle cx="322.32" cy="133.25" r="3.6" fill="#000"/>
<circle cx="367.26" cy="133.25" r="3.6" fill="#000"/>
</svg>
</body></html>
